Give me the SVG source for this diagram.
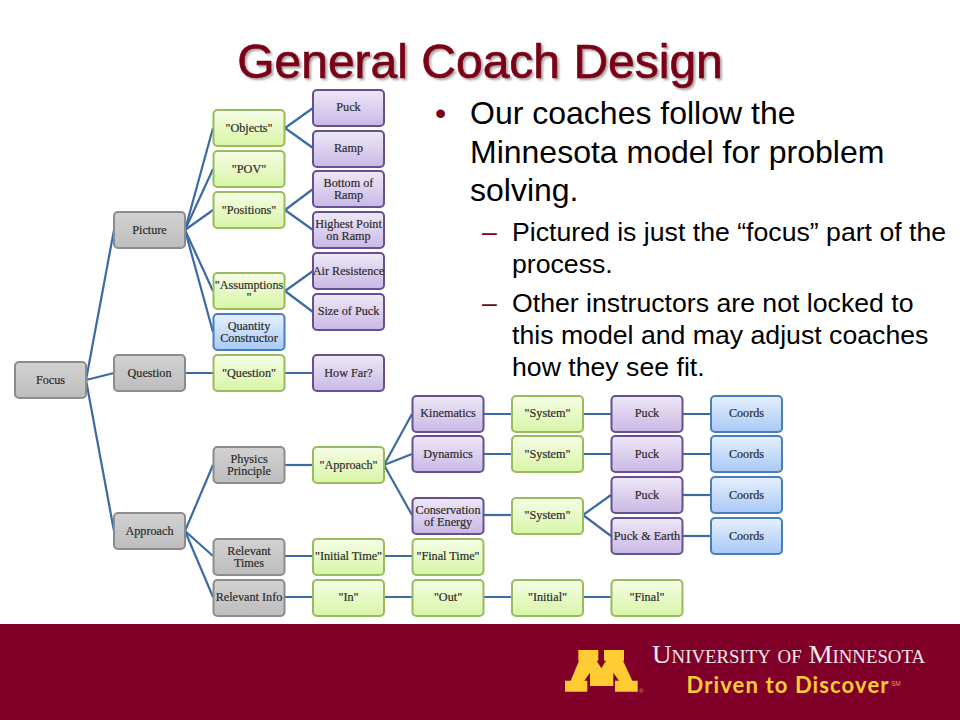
<svg xmlns="http://www.w3.org/2000/svg" width="960" height="720" viewBox="0 0 960 720">
<defs>
<linearGradient id="gg" x1="0" y1="0" x2="0" y2="1"><stop offset="0" stop-color="#d2d2d2"/><stop offset="1" stop-color="#bdbdbd"/></linearGradient>
<linearGradient id="gn" x1="0" y1="0" x2="0" y2="1"><stop offset="0" stop-color="#f6fde6"/><stop offset="1" stop-color="#d8f5a6"/></linearGradient>
<linearGradient id="gp" x1="0" y1="0" x2="0" y2="1"><stop offset="0" stop-color="#eee8f6"/><stop offset="1" stop-color="#c9b8e6"/></linearGradient>
<linearGradient id="gb" x1="0" y1="0" x2="0" y2="1"><stop offset="0" stop-color="#e6f0fd"/><stop offset="1" stop-color="#a8c9f6"/></linearGradient>
<filter id="sh" x="-5%" y="-20%" width="110%" height="140%"><feDropShadow dx="2" dy="2" stdDeviation="1.2" flood-color="#000" flood-opacity="0.35"/></filter>
</defs>
<style>
.n rect{stroke-width:2}
.n text{font-family:"Liberation Serif",serif;font-size:12.2px;fill:#2c2c2c;stroke:#2c2c2c;stroke-width:0.2;text-anchor:middle}
.g rect{fill:url(#gg);stroke:#8c8c8c}
.v rect{fill:url(#gn);stroke:#9aba5f}
.p rect{fill:url(#gp);stroke:#66508f}
.b rect{fill:url(#gb);stroke:#4a7ebb}
#connectors line{stroke:#3c6aa4;stroke-width:2.2}
.t1{font-family:"Liberation Sans",Arial,sans-serif;font-size:32px;fill:#000}
.t2{font-family:"Liberation Sans",Arial,sans-serif;font-size:26.67px;fill:#000}
</style>
<rect width="960" height="720" fill="#fff"/>
<text x="480" y="78" text-anchor="middle" font-family="'Liberation Sans',Arial,sans-serif" font-size="48" fill="#7a0019" stroke="#7a0019" stroke-width="0.7" filter="url(#sh)">General Coach Design</text>
<g id="connectors">
<line x1="86" y1="380" x2="114" y2="230"/><line x1="86" y1="380" x2="114" y2="373"/><line x1="86" y1="380" x2="114" y2="531"/>
<line x1="185" y1="230" x2="213" y2="128"/><line x1="185" y1="230" x2="213" y2="169"/><line x1="185" y1="230" x2="213" y2="210"/><line x1="185" y1="230" x2="213" y2="291"/><line x1="185" y1="230" x2="213" y2="332"/>
<line x1="285" y1="128" x2="313" y2="108"/><line x1="285" y1="128" x2="313" y2="148"/>
<line x1="285" y1="210" x2="313" y2="189"/><line x1="285" y1="210" x2="313" y2="230"/>
<line x1="285" y1="291" x2="313" y2="271"/><line x1="285" y1="291" x2="313" y2="312"/>
<line x1="185" y1="373" x2="313" y2="373"/>
<line x1="185" y1="531" x2="213" y2="465"/><line x1="185" y1="531" x2="213" y2="556"/><line x1="185" y1="531" x2="213" y2="597"/>
<line x1="285" y1="465" x2="313" y2="465"/>
<line x1="384" y1="465" x2="412" y2="414"/><line x1="384" y1="465" x2="412" y2="454"/><line x1="384" y1="465" x2="412" y2="515"/>
<line x1="484" y1="414" x2="782" y2="414"/><line x1="484" y1="454" x2="782" y2="454"/><line x1="484" y1="515" x2="512" y2="515"/>
<line x1="583" y1="515" x2="611" y2="495"/><line x1="583" y1="515" x2="611" y2="536"/>
<line x1="683" y1="495" x2="711" y2="495"/><line x1="683" y1="536" x2="711" y2="536"/>
<line x1="285" y1="556" x2="412" y2="556"/>
<line x1="285" y1="597" x2="611" y2="597"/>
</g>
<g id="focus" class="n g"><rect x="15" y="362" width="71" height="36" rx="4"/><text x="50.5" y="384">Focus</text></g>
<g id="picture" class="n g"><rect x="114" y="212" width="71" height="36" rx="4"/><text x="149.5" y="234">Picture</text></g>
<g id="question" class="n g"><rect x="114" y="355" width="71" height="36" rx="4"/><text x="149.5" y="377">Question</text></g>
<g id="approach" class="n g"><rect x="114" y="513" width="71" height="36" rx="4"/><text x="149.5" y="535">Approach</text></g>
<g id="objects" class="n v"><rect x="213.500" y="110" width="71" height="36" rx="4"/><text x="249" y="132">"Objects"</text></g>
<g id="pov" class="n v"><rect x="213.500" y="151" width="71" height="36" rx="4"/><text x="249" y="173">"POV"</text></g>
<g id="positions" class="n v"><rect x="213.500" y="192" width="71" height="36" rx="4"/><text x="249" y="214">"Positions"</text></g>
<g id="assumptions" class="n v"><rect x="213.500" y="273" width="71" height="36" rx="4"/><text x="249" y="289">"Assumptions<tspan x="249" dy="12">"</tspan></text></g>
<g id="quantity-constructor" class="n b"><rect x="213.500" y="314" width="71" height="36" rx="4"/><text x="249" y="330">Quantity<tspan x="249" dy="12">Constructor</tspan></text></g>
<g id="question-q" class="n v"><rect x="213.500" y="355" width="71" height="36" rx="4"/><text x="249" y="377">"Question"</text></g>
<g id="physics-principle" class="n g"><rect x="213.500" y="447" width="71" height="36" rx="4"/><text x="249" y="463">Physics<tspan x="249" dy="12">Principle</tspan></text></g>
<g id="relevant-times" class="n g"><rect x="213.500" y="539" width="71" height="36" rx="4"/><text x="249" y="555">Relevant<tspan x="249" dy="12">Times</tspan></text></g>
<g id="relevant-info" class="n g"><rect x="213.500" y="580" width="71" height="36" rx="4"/><text x="249" y="601">Relevant Info</text></g>
<g id="puck1" class="n p"><rect x="313" y="90" width="71" height="36" rx="4"/><text x="348.500" y="111">Puck</text></g>
<g id="ramp" class="n p"><rect x="313" y="131" width="71" height="36" rx="4"/><text x="348.500" y="152">Ramp</text></g>
<g id="bottom" class="n p"><rect x="313" y="171" width="71" height="36" rx="4"/><text x="348.500" y="187">Bottom of<tspan x="348.500" dy="12">Ramp</tspan></text></g>
<g id="highest" class="n p"><rect x="313" y="212" width="71" height="36" rx="4"/><text x="348.500" y="228">Highest Point<tspan x="348.500" dy="12">on Ramp</tspan></text></g>
<g id="air" class="n p"><rect x="313" y="253" width="71" height="36" rx="4"/><text x="348.500" y="275">Air Resistence</text></g>
<g id="size" class="n p"><rect x="313" y="294" width="71" height="36" rx="4"/><text x="348.500" y="315">Size of Puck</text></g>
<g id="howfar" class="n p"><rect x="313" y="355" width="71" height="36" rx="4"/><text x="348.500" y="377">How Far?</text></g>
<g id="approach-q" class="n v"><rect x="313" y="447" width="71" height="36" rx="4"/><text x="348.500" y="469">"Approach"</text></g>
<g id="initial-time" class="n v"><rect x="313" y="539" width="71" height="36" rx="4"/><text x="348.500" y="560">"Initial Time"</text></g>
<g id="in" class="n v"><rect x="313" y="580" width="71" height="36" rx="4"/><text x="348.500" y="601">"In"</text></g>
<g id="kinematics" class="n p"><rect x="412.500" y="396" width="71" height="36" rx="4"/><text x="448" y="417">Kinematics</text></g>
<g id="dynamics" class="n p"><rect x="412.500" y="436" width="71" height="36" rx="4"/><text x="448" y="458">Dynamics</text></g>
<g id="conservation" class="n p"><rect x="412.500" y="498" width="71" height="36" rx="4"/><text x="448" y="514">Conservation<tspan x="448" dy="12">of Energy</tspan></text></g>
<g id="final-time" class="n v"><rect x="412.500" y="539" width="71" height="36" rx="4"/><text x="448" y="560">"Final Time"</text></g>
<g id="out" class="n v"><rect x="412.500" y="580" width="71" height="36" rx="4"/><text x="448" y="601">"Out"</text></g>
<g id="system1" class="n v"><rect x="512" y="396" width="71" height="36" rx="4"/><text x="547.500" y="417">"System"</text></g>
<g id="system2" class="n v"><rect x="512" y="436" width="71" height="36" rx="4"/><text x="547.500" y="458">"System"</text></g>
<g id="system3" class="n v"><rect x="512" y="498" width="71" height="36" rx="4"/><text x="547.500" y="519">"System"</text></g>
<g id="initial" class="n v"><rect x="512" y="580" width="71" height="36" rx="4"/><text x="547.500" y="601">"Initial"</text></g>
<g id="puck2" class="n p"><rect x="611.500" y="396" width="71" height="36" rx="4"/><text x="647" y="417">Puck</text></g>
<g id="puck3" class="n p"><rect x="611.500" y="436" width="71" height="36" rx="4"/><text x="647" y="458">Puck</text></g>
<g id="puck4" class="n p"><rect x="611.500" y="477" width="71" height="36" rx="4"/><text x="647" y="499">Puck</text></g>
<g id="puck-earth" class="n p"><rect x="611.500" y="518" width="71" height="36" rx="4"/><text x="647" y="540">Puck &amp; Earth</text></g>
<g id="final" class="n v"><rect x="611.500" y="580" width="71" height="36" rx="4"/><text x="647" y="601">"Final"</text></g>
<g id="coords1" class="n b"><rect x="711" y="396" width="71" height="36" rx="4"/><text x="746.500" y="417">Coords</text></g>
<g id="coords2" class="n b"><rect x="711" y="436" width="71" height="36" rx="4"/><text x="746.500" y="458">Coords</text></g>
<g id="coords3" class="n b"><rect x="711" y="477" width="71" height="36" rx="4"/><text x="746.500" y="499">Coords</text></g>
<g id="coords4" class="n b"><rect x="711" y="518" width="71" height="36" rx="4"/><text x="746.500" y="540">Coords</text></g>
<text x="435" y="124" class="t1" style="fill:#7a0019">•</text>
<text class="t1" x="470" y="124">Our coaches follow the<tspan x="470" dy="39">Minnesota model for problem</tspan><tspan x="470" dy="38">solving.</tspan></text>
<text class="t2" x="482" y="241" style="fill:#7a0019">–</text>
<text class="t2" x="512" y="241">Pictured is just the “focus” part of the<tspan x="512" dy="32">process.</tspan></text>
<text class="t2" x="482" y="312" style="fill:#7a0019">–</text>
<text class="t2" x="512" y="312">Other instructors are not locked to<tspan x="512" dy="32">this model and may adjust coaches</tspan><tspan x="512" dy="32">how they see fit.</tspan></text>
<rect x="0" y="624" width="960" height="96" fill="#80002a"/>
<polygon points="578.300,650 598.300,650 598.300,660.700 596.700,660.700 601.300,668.300 606,660.700 604,660.700 604,650 624,650 624,660.700 623,660.700 632.300,680.700 637.700,680.700 637.700,691.700 615,691.700 615,680.700 619,680.700 613.300,672.700 613.300,686 590,686 590,672.700 584.300,680.700 587.300,680.700 587.300,691.700 565,691.700 565,680.700 570.700,680.700 579,660.700 578.300,660.700" fill="#ffcc33"/>
<text x="639" y="693" font-family="'Liberation Sans',sans-serif" font-size="6" fill="#d9a04a">®</text>
<text x="652" y="662.700" font-family="'Liberation Serif',serif" font-size="26" fill="#f6e9ec" style="font-variant:small-caps" textLength="273" lengthAdjust="spacingAndGlyphs">University of Minnesota</text>
<text x="686.500" y="692.500" font-family="Lato,'Open Sans',sans-serif" font-weight="700" font-size="22" fill="#ffcc33" textLength="202">Driven to Discover</text>
<text x="891" y="686" font-family="'Liberation Sans',sans-serif" font-size="6.500" fill="#d9a04a">SM</text>
</svg>
